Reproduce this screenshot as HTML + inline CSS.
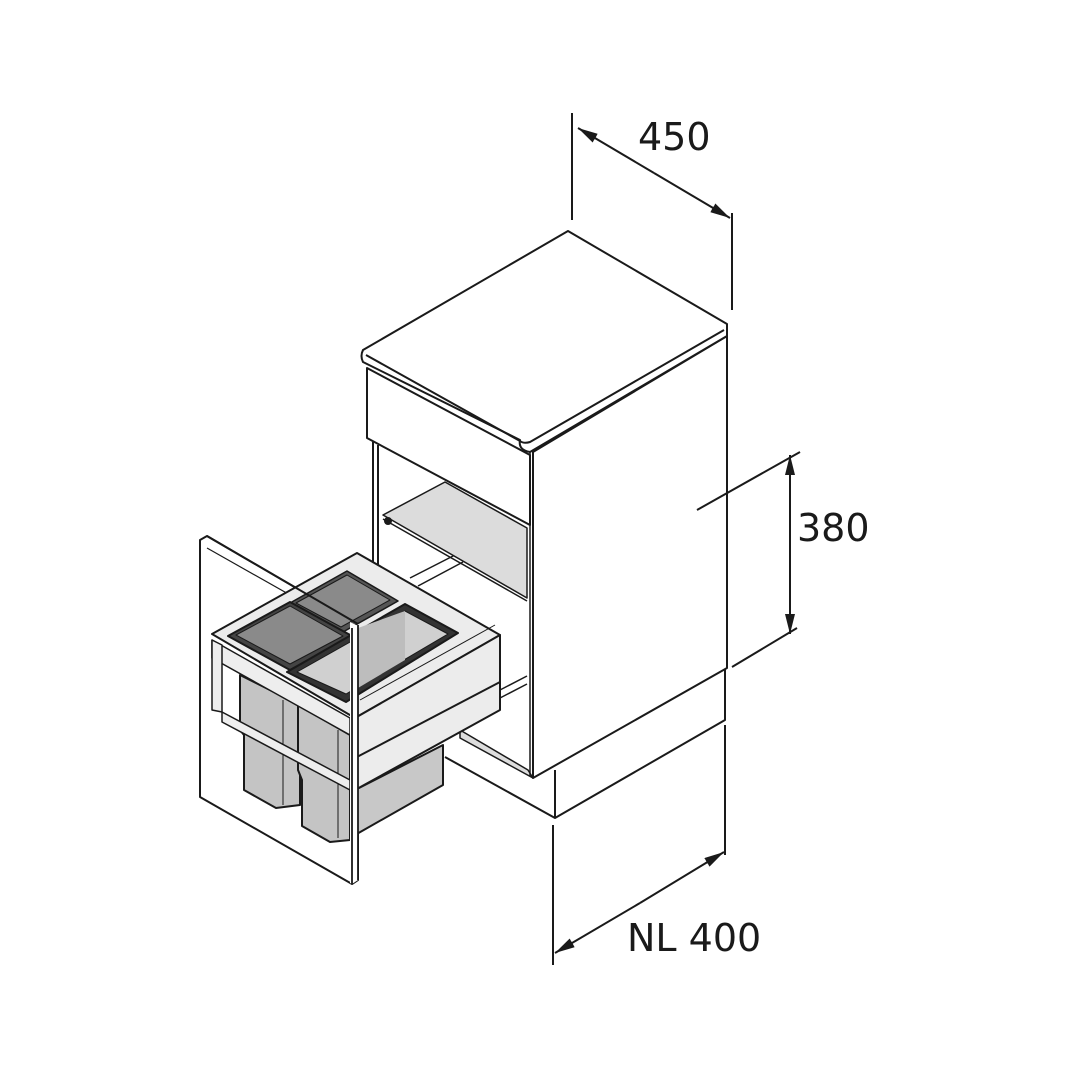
<!DOCTYPE html>
<html><head><meta charset="utf-8"><style>html,body{margin:0;padding:0;background:#fff}svg{display:block}</style></head>
<body>
<svg width="1080" height="1080" viewBox="0 0 1080 1080" xmlns="http://www.w3.org/2000/svg">
<defs>
<marker id="ar" markerWidth="20" markerHeight="10" refX="20" refY="5" orient="auto" markerUnits="userSpaceOnUse"><path d="M0,0 L20,5 L0,10 z" fill="#1a1a1a"/></marker>
</defs>
<g fill="none" stroke="#1a1a1a" stroke-width="2" stroke-linejoin="round">
<!-- plinth -->
<polygon points="445,757 555,818 725,720 725,668 533,778 460,735" fill="#fff" stroke="none"/>
<polyline points="445,757 555,818 725,720 725,668"/>
<line x1="555" y1="770" x2="555" y2="818"/>
<!-- inner carcass left side -->
<line x1="373" y1="442" x2="373" y2="570"/>
<line x1="378" y1="445" x2="378" y2="570"/>
<polygon points="460,730 528,770 533,778 460,738" fill="#ddd" stroke-width="1.5"/>
<!-- rails -->
<line x1="410" y1="578" x2="455" y2="555" stroke-width="1.5"/>
<line x1="418" y1="586" x2="463" y2="562" stroke-width="1.5"/>
<line x1="500" y1="690" x2="527" y2="676" stroke-width="1.5"/>
<line x1="500" y1="698" x2="527" y2="684" stroke-width="1.5"/>
<!-- shelf -->
<polygon points="383,515 445,482 527,528 527,598" fill="#dcdcdc" stroke-width="1.5"/>
<line x1="383" y1="519" x2="527" y2="601" stroke-width="1.5"/>
<circle cx="388" cy="521" r="3" fill="#1a1a1a"/>
<!-- right side panel -->
<polygon points="533,452 727,336 727,668 533,778" fill="#fff"/>
<line x1="530" y1="452" x2="530" y2="776" stroke-width="1.5"/>
<!-- front top rail -->
<polygon points="367,368 530,455 530,525 367,438" fill="#fff"/>
<!-- top slab -->
<path d="M363,350 L568,231 L727,324 L727,336 L530,452 Q518,450 520,440 L363,362 Q360,356 363,350 z" fill="#fff"/>
<path d="M366,355 L520,441 Q524,444 530,442 L724,330" stroke-width="2"/>
<!-- drawer front panel -->
<polygon points="200,540 207,536 358,624 358,880 352,884 200,797" fill="#fff"/>
<line x1="207" y1="548" x2="352" y2="630" stroke-width="1.2"/>
<!-- drawer box -->
<polygon points="355,790 443,745 443,785 355,835" fill="#c8c8c8"/>
<polygon points="212,634 357,553 500,635 355,718" fill="#ececec"/>
<polygon points="355,718 500,635 500,710 355,790" fill="#ececec"/>
<line x1="355" y1="758" x2="500" y2="682"/>
<line x1="360" y1="700" x2="495" y2="625" stroke-width="1"/>
<!-- bins -->
<polygon points="240,675 300,705 300,805 276,808 244,790 244,735 240,730" fill="#c4c4c4"/>
<polygon points="298,705 350,735 350,840 330,842 302,826 302,780 298,770" fill="#c4c4c4"/>
<line x1="283" y1="700" x2="283" y2="805" stroke-width="1"/>
<line x1="338" y1="730" x2="338" y2="838" stroke-width="1"/>
<!-- rail front bar -->
<polygon points="212,640 350,718 350,735 212,658" fill="#eee" stroke-width="1.5"/>
<polygon points="222,712 350,780 350,790 222,722" fill="#eee" stroke-width="1.5"/>
<polygon points="212,640 222,645 222,712 212,710" fill="#eee" stroke-width="1.5"/>
<!-- lids -->
<polygon points="290,603 347,571 398,601 343,632" fill="#555" stroke-width="1.5"/>
<polygon points="296,603 347,575 390,600 341,627" fill="#8a8a8a" stroke-width="1"/>
<polygon points="228,636 290,602 352,636 290,670" fill="#444"/>
<polygon points="236,635 290,606 343,636 290,664" fill="#8a8a8a" stroke-width="1"/>
<polygon points="287,672 405,604 458,633 346,702" fill="#333"/>
<polygon points="297,672 405,611 448,634 346,694" fill="#d0d0d0" stroke-width="1"/>
<polygon points="358,628 405,611 405,660 358,688" fill="#bdbdbd" stroke="none"/>
<!-- front panel overlay -->
<polygon points="350,622 358,626 358,880 352,884 350,883" fill="#fff" stroke="none"/>
<line x1="352" y1="628" x2="352" y2="884" stroke-width="1.8"/>
<line x1="358" y1="625" x2="358" y2="880" stroke-width="1.8"/>
<line x1="207" y1="536" x2="358" y2="624"/>
<!-- dimensions -->
<line x1="572" y1="113" x2="572" y2="220"/>
<line x1="732" y1="213" x2="732" y2="310"/>
<line x1="654" y1="173" x2="730" y2="218" marker-end="url(#ar)"/>
<line x1="654" y1="173" x2="578" y2="128" marker-end="url(#ar)"/>
<line x1="697" y1="510" x2="800" y2="452"/>
<line x1="732" y1="667" x2="797" y2="628"/>
<line x1="790" y1="540" x2="790" y2="455" marker-end="url(#ar)"/>
<line x1="790" y1="540" x2="790" y2="634" marker-end="url(#ar)"/>
<line x1="553" y1="825" x2="553" y2="965"/>
<line x1="725" y1="725" x2="725" y2="855"/>
<line x1="640" y1="903" x2="555" y2="953" marker-end="url(#ar)"/>
<line x1="640" y1="903" x2="724" y2="852" marker-end="url(#ar)"/>
</g>
<g font-family="'DejaVu Sans', 'Liberation Sans', sans-serif" font-size="38" fill="#1a1a1a">
<text x="638" y="150">450</text>
<text x="797" y="541">380</text>
<text x="627" y="951">NL 400</text>
</g>
</svg>
</body></html>
